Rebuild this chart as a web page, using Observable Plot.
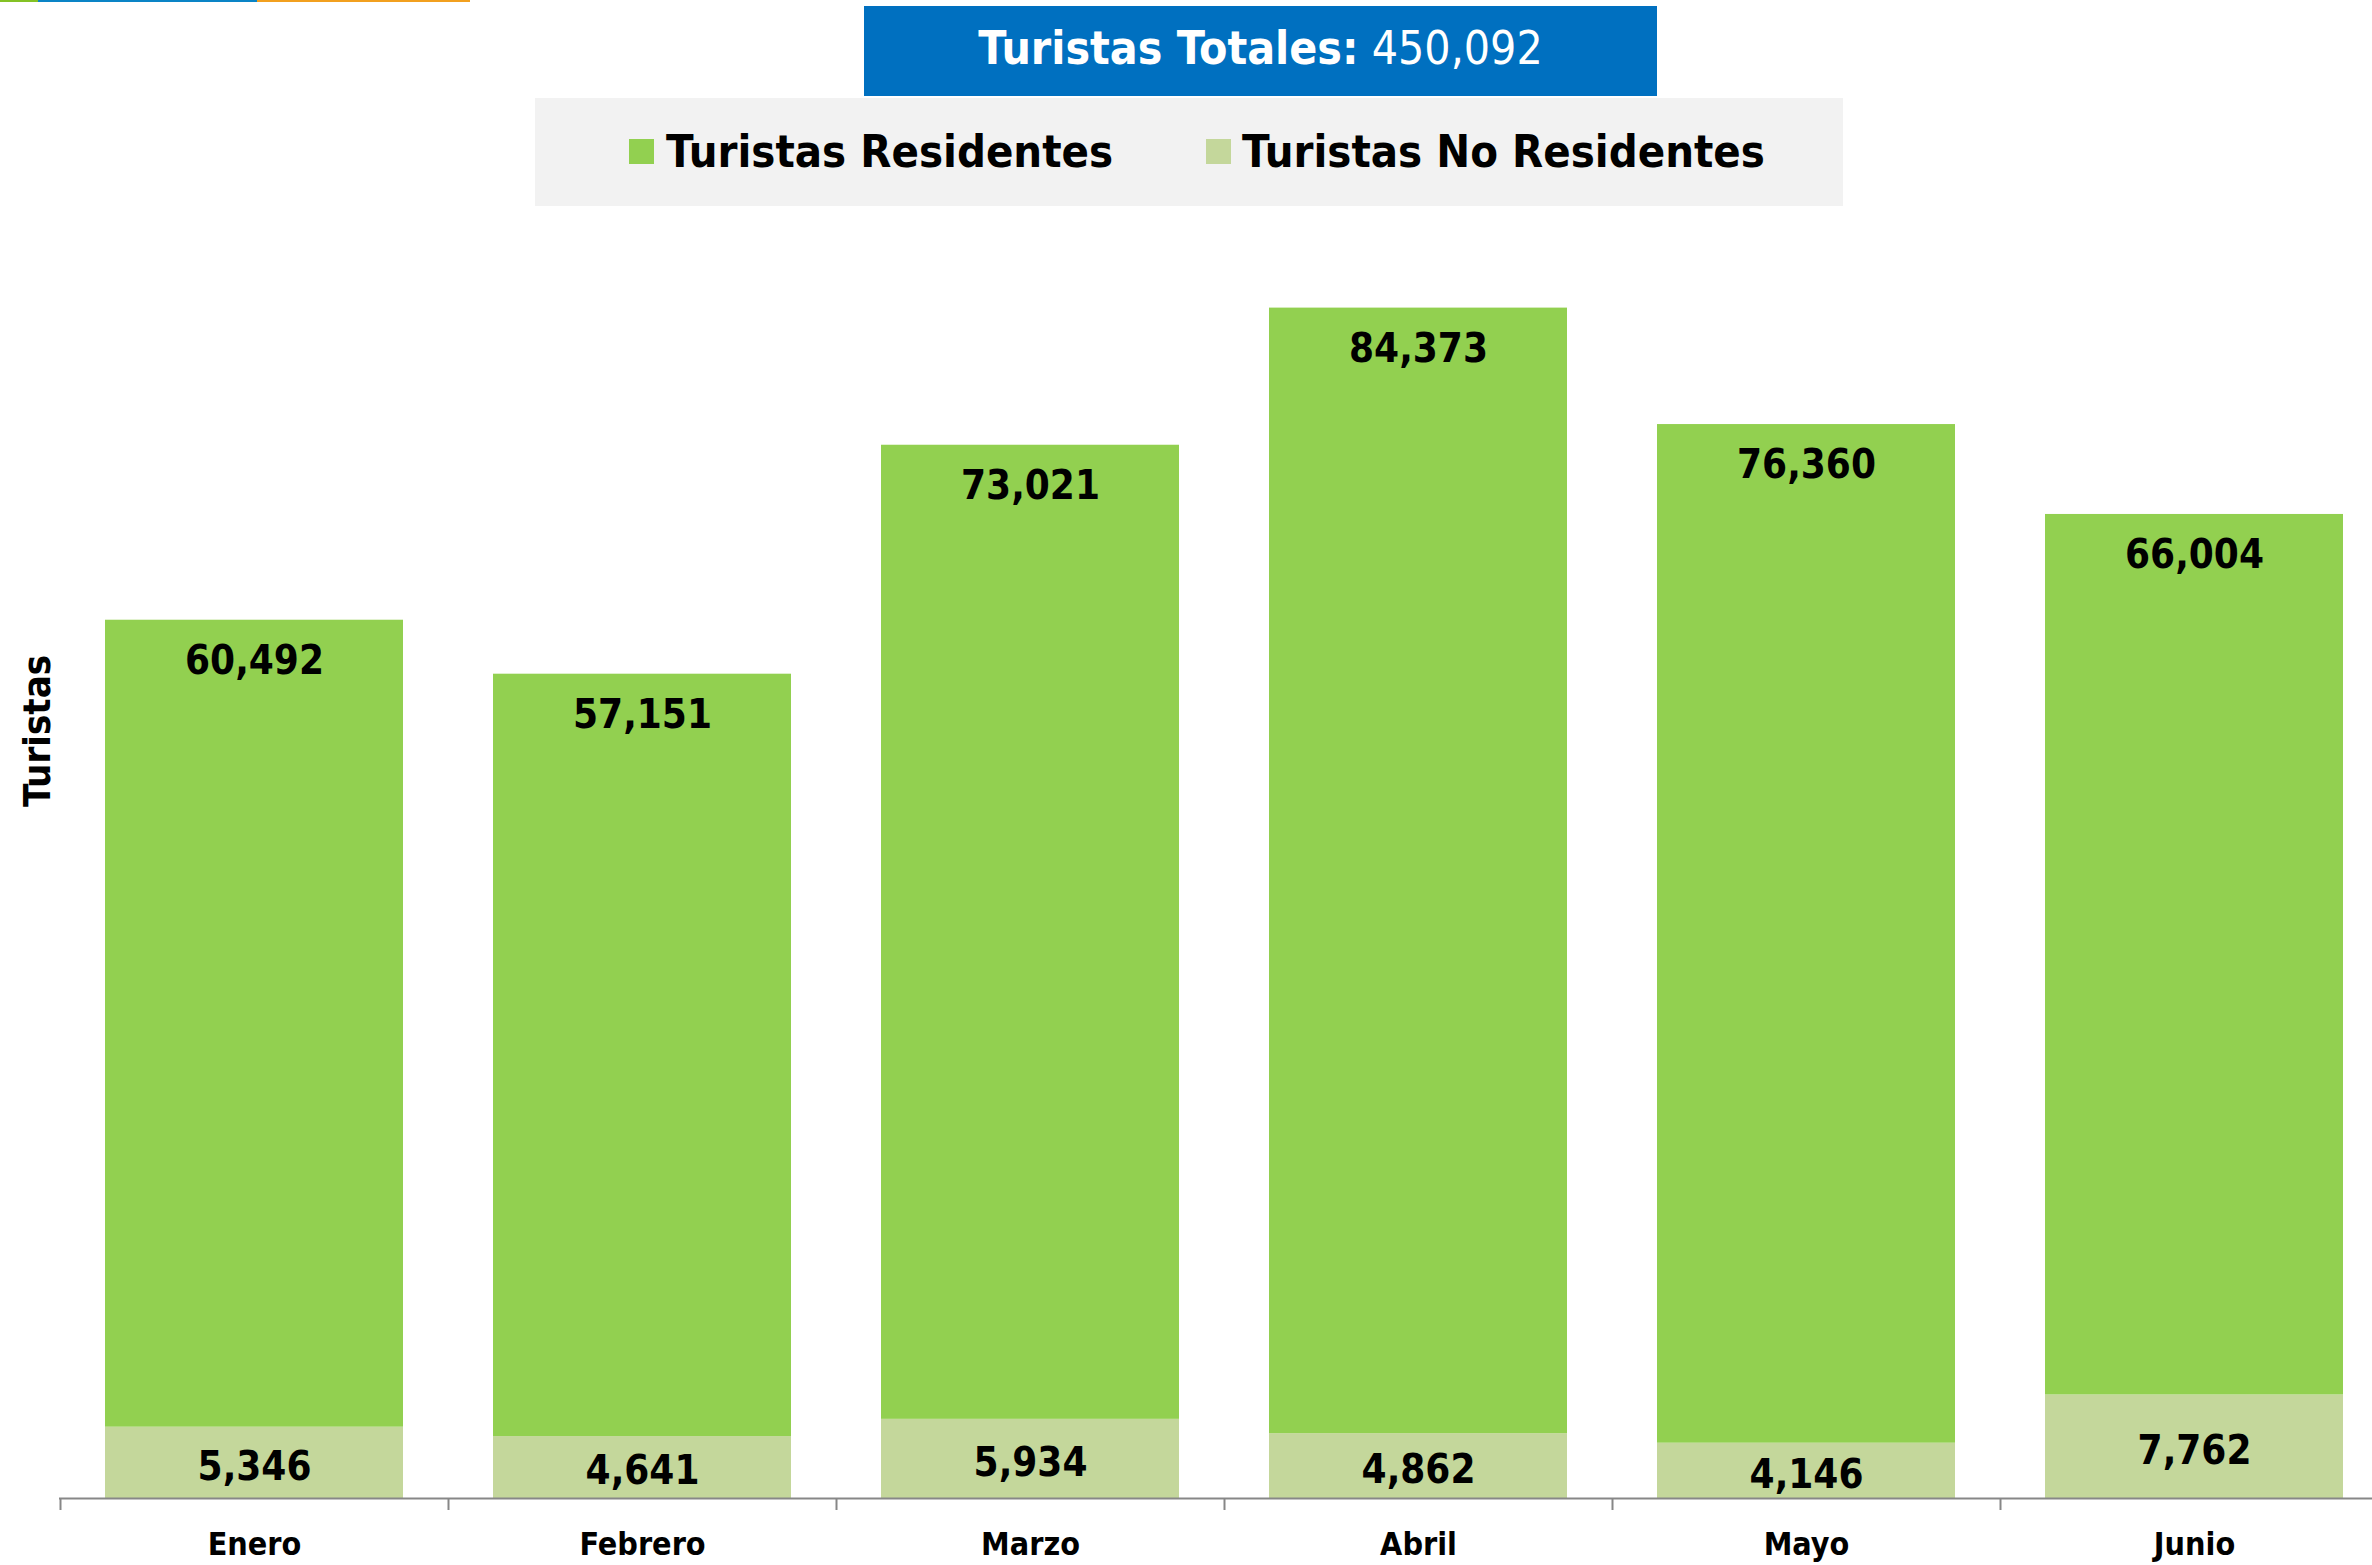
<!DOCTYPE html>
<html><head><meta charset="utf-8">
<script src="https://cdn.jsdelivr.net/npm/d3@7"></script>
<script src="https://cdn.jsdelivr.net/npm/@observablehq/plot@0.6"></script>
<style>
html,body{margin:0;padding:0;background:#fff;overflow:hidden;}
#wrap{position:relative;width:2372px;height:1565px;font-family:"DejaVu Sans Condensed","DejaVu Sans",sans-serif;font-stretch:condensed;}
#chart{position:absolute;left:0;top:0;}
.bar{position:absolute;top:0;height:2px;}
#title{position:absolute;left:864px;top:6px;width:793px;height:90px;background:#0070C0;color:#fff;font-size:46px;line-height:84px;text-align:center;white-space:nowrap;}
#title b{font-weight:bold;}
#legend{position:absolute;left:535px;top:98px;width:1308px;height:108px;background:#F2F2F2;}
.sw{position:absolute;top:41px;width:25px;height:25px;}
.lt{position:absolute;top:53px;transform:translateY(-50%);font-size:45px;font-weight:bold;color:#000;white-space:nowrap;line-height:1;}
#ylab{position:absolute;left:37px;top:731px;transform:translate(-50%,-50%) rotate(-90deg);font-size:38px;font-weight:bold;white-space:nowrap;line-height:1;}
</style>
</head><body>
<div id="wrap">
  <div id="chart"></div>
  <div class="bar" style="left:0;width:38px;background:#84C225"></div>
  <div class="bar" style="left:38px;width:219px;background:#0A84C6"></div>
  <div class="bar" style="left:257px;width:213px;background:#F2A01F"></div>
  <div id="title"></div>
  <div id="legend"></div>
  <div id="ylab">Turistas</div>
</div>
<script>
const months = ["Enero", "Febrero", "Marzo", "Abril", "Mayo", "Junio"];
const residentes = [60492, 57151, 73021, 84373, 76360, 66004];
const noResidentes = [5346, 4641, 5934, 4862, 4146, 7762];
const seriesNames = ["Turistas Residentes", "Turistas No Residentes"];
const seriesColors = ["#92D050", "#C4D79B"];

const fmt = d3.format(",");
const total = d3.sum(residentes) + d3.sum(noResidentes);

document.getElementById("title").innerHTML = "<b>Turistas Totales:</b> " + fmt(total);

const legend = document.getElementById("legend");
const legendPos = [[94, 131], [671, 707]];
seriesNames.forEach((name, i) => {
  const sw = document.createElement("div");
  sw.className = "sw";
  sw.style.left = legendPos[i][0] + "px";
  sw.style.background = seriesColors[i];
  legend.appendChild(sw);
  const t = document.createElement("div");
  t.className = "lt";
  t.style.left = legendPos[i][1] + "px";
  t.textContent = name;
  legend.appendChild(t);
});

const table = months.map((m, i) => ({month: m, res: residentes[i], non: noResidentes[i]}));
const rows = [];
table.forEach(d => {
  rows.push({month: d.month, tipo: seriesNames[1], value: d.non});
  rows.push({month: d.month, tipo: seriesNames[0], value: d.res});
});

const font = '"DejaVu Sans Condensed","DejaVu Sans",sans-serif';
const chart = Plot.plot({
  width: 2372,
  height: 1565,
  marginTop: 297.4,
  marginBottom: 67,
  marginLeft: 59,
  marginRight: 0,
  style: {fontFamily: font, background: "transparent", overflow: "visible", fontStretch: "condensed"},
  x: {domain: months, range: [59, 2388], paddingInner: 0.232, paddingOuter: 0.116, axis: null},
  y: {domain: [0, 90000], axis: null},
  color: {domain: seriesNames, range: seriesColors},
  marks: [
    Plot.barY(rows, {x: "month", y: "value", fill: "tipo"}),
    Plot.ruleY([0], {stroke: "#878787", strokeWidth: 2}),
    Plot.ruleX(months, {x: d => d, dx: -194, y1: 0, y2: -900, stroke: "#878787", strokeWidth: 2}),
    Plot.text(table, {x: "month", y: d => d.res + d.non, text: d => fmt(d.res), dy: 41, lineAnchor: "middle", fontSize: 40, fontWeight: "bold", fill: "#000"}),
    Plot.text(table, {x: "month", y: d => d.non / 2, text: d => fmt(d.non), dy: 4, lineAnchor: "middle", fontSize: 40, fontWeight: "bold", fill: "#000"}),
    Plot.text(months, {x: d => d, frameAnchor: "bottom", dy: 46, lineAnchor: "middle", fontSize: 32, fontWeight: "bold", fill: "#000"})
  ]
});
document.getElementById("chart").appendChild(chart);
</script>
</body></html>
